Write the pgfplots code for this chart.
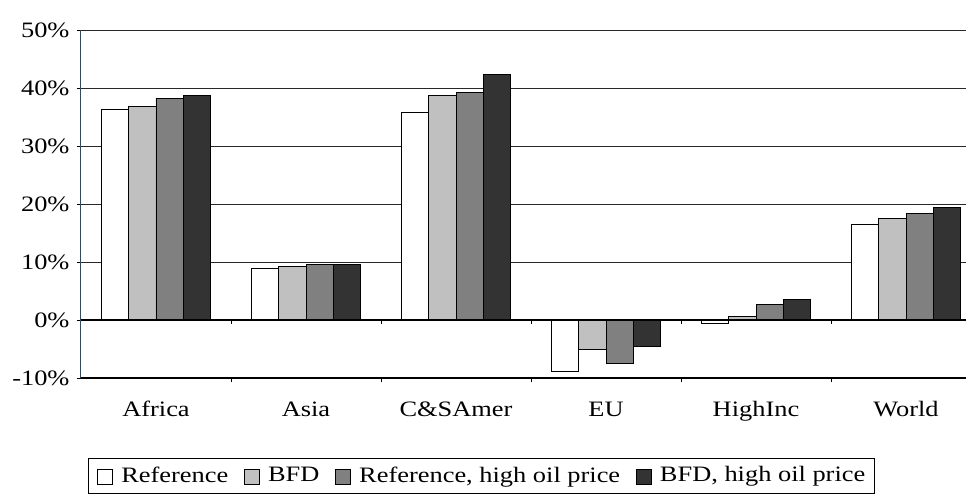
\documentclass[border=0pt]{standalone}
\usepackage{fontspec}
\setmainfont{Liberation Serif}[FakeStretch=1.2]
\usepackage{pgfplots}
\pgfplotsset{compat=1.18}
\definecolor{barlight}{RGB}{192,192,192}
\definecolor{barmid}{RGB}{128,128,128}
\definecolor{bardark}{RGB}{51,51,51}
\definecolor{yaxisblue}{RGB}{31,78,121}
\definecolor{gridgray}{RGB}{40,40,40}

\begin{document}
\fontsize{22bp}{26bp}\selectfont
\begin{tikzpicture}
\path[use as bounding box] (-81bp,-118bp) rectangle (885bp,378bp);
\begin{axis}[
    at={(0,0)}, anchor=south west,
    scale only axis,
    width=885bp, height=348bp,
    xmin=-0.5, xmax=5.4,
    ymin=-10, ymax=50,
    ybar=0pt,
    bar width=27.3bp,
    axis x line*=bottom,
    axis y line*=left,
    y axis line style={draw=yaxisblue, line width=1bp},
    x axis line style={line width=1.5bp},
    xtick={0,1,2,3,4,5},
    xticklabels={Africa, Asia, C\&SAmer, EU, HighInc, World},
    minor xtick={0.5,1.5,2.5,3.5,4.5},
    major x tick style={draw=none},
    minor x tick style={black, line width=0.8bp},
    ytick={-10,0,10,20,30,40,50},
    yticklabel={\pgfmathprintnumber{\tick}\%},
    /pgf/number format/assume math mode=true,
    tick align=outside,
    major tick length=4bp,
    minor tick length=4bp,
    y tick style={black, line width=0.8bp},
    ymajorgrids=true,
    grid style={gridgray, line width=1bp},
    tick label style={font=\fontsize{22bp}{26bp}\selectfont},
    x tick label style={anchor=base, yshift=-34bp},
    legend style={
        at={(0.0079,-0.23)}, anchor=north west,
        legend columns=4,
        draw=black, line width=1bp,
        font=\fontsize{22bp}{26bp}\selectfont,
        inner xsep=9bp, inner ysep=8bp,
        nodes={inner sep=0pt},
        /tikz/every odd column/.append style={column sep=8bp},
        /tikz/every even column/.append style={column sep=16bp},
    },
    legend image code/.code={
        \draw[#1, line width=0.8bp] (0bp,-8bp) rectangle (15bp,7bp);
    },
    clip=false,
]
\addplot[draw=black, fill=white, line width=0.9bp] coordinates {
    (0,36.3) (1,8.9) (2,35.8) (3,-8.8) (4,-0.6) (5,16.4)
};
\addlegendentry{Reference}
\addplot[draw=black, fill=barlight, line width=0.9bp] coordinates {
    (0,36.8) (1,9.3) (2,38.7) (3,-5.1) (4,0.55) (5,17.5)
};
\addlegendentry{BFD}
\addplot[draw=black, fill=barmid, line width=0.9bp] coordinates {
    (0,38.2) (1,9.5) (2,39.2) (3,-7.5) (4,2.7) (5,18.4)
};
\addlegendentry{Reference, high oil price}
\addplot[draw=black, fill=bardark, line width=0.9bp] coordinates {
    (0,38.7) (1,9.5) (2,42.3) (3,-4.5) (4,3.5) (5,19.4)
};
\addlegendentry{BFD, high oil price}

% zero line of the category axis, with its tick marks
\draw[black, line width=1.5bp] (axis cs:-0.5,0) -- (axis cs:5.4,0);
\pgfplotsinvokeforeach{0.5,1.5,2.5,3.5,4.5}{
    \draw[black, line width=0.8bp] (axis cs:#1,0) -- ++(0pt,-4bp);
}
\end{axis}
\end{tikzpicture}
\end{document}
